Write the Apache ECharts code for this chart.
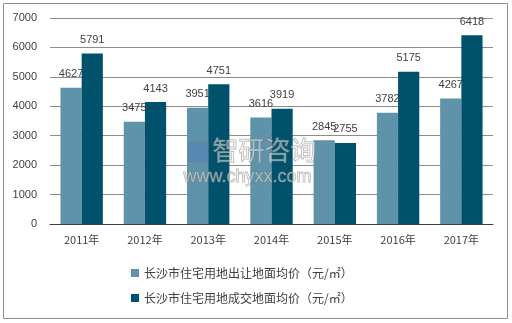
<!DOCTYPE html>
<html><head><meta charset="utf-8">
<script src="https://cdn.jsdelivr.net/npm/echarts@6/dist/echarts.min.js"></script>
<style>html,body{margin:0;padding:0;background:#fff}#c{width:512px;height:323px}</style>
</head><body><div id="c"></div>
<script>
var categories = ['2011年','2012年','2013年','2014年','2015年','2016年','2017年'];
var seriesNames = ['长沙市住宅用地出让地面均价（元/㎡）','长沙市住宅用地成交地面均价（元/㎡）'];
var transferPrice = [4627,3475,3951,3616,2845,3782,4267];
var dealPrice = [5791,4143,4751,3919,2755,5175,6418];
var colors = ['#5E93A9','#00526C'];

var chart = echarts.init(document.getElementById('c'), null, {renderer:'canvas'});
var lbl = {show:true, position:'top', distance:8, color:'#404040', fontSize:11, fontFamily:'Liberation Sans, Arial, sans-serif'};
chart.setOption({
  animation:false,
  backgroundColor:'#fff',
  graphic:[
    {type:'rect', shape:{x:3.5,y:3.5,width:504,height:315}, style:{fill:'none', stroke:'#8c8c8c', lineWidth:1}, z:-1},
    {type:'rect', shape:{x:188,y:142,width:20,height:20}, style:{fill:'rgba(80,130,190,0.55)', stroke:'rgba(120,120,120,0.5)', lineWidth:1}, z:100},
    {type:'text', left:212, top:137, style:{text:'智研咨询', fontSize:26, fontFamily:'Noto Sans CJK SC', fill:'rgba(255,255,255,0.45)', stroke:'rgba(110,110,110,0.55)', lineWidth:1}, z:100},
    {type:'text', left:183, top:168, style:{text:'www.chyxx.com', fontSize:18, fontFamily:'Liberation Sans', fill:'rgba(255,255,255,0.45)', stroke:'rgba(110,110,110,0.55)', lineWidth:1}, z:100}
  ],
  grid:{left:50, right:19, top:18, bottom:99, containLabel:false},
  legend:{
    orient:'vertical', left:126, top:262, itemWidth:8, itemHeight:8, itemGap:13,
    icon:'rect',
    textStyle:{color:'#404040', fontSize:12, fontFamily:'Noto Sans CJK SC'},
    data:seriesNames
  },
  xAxis:{
    type:'category', data:categories,
    axisLine:{lineStyle:{color:'#404040'}},
    axisTick:{show:false},
    axisLabel:{color:'#404040', fontSize:11, margin:10, fontFamily:'Noto Sans CJK SC'}
  },
  yAxis:{
    type:'value', min:0, max:7000, interval:1000,
    axisLine:{show:false}, axisTick:{show:false},
    axisLabel:{color:'#404040', fontSize:11, margin:13, fontFamily:'Liberation Sans, Arial, sans-serif', formatter:function(v){return String(v);}},
    splitLine:{lineStyle:{color:'#8c8c8c'}}
  },
  series:[
    {name:seriesNames[0], type:'bar', data:transferPrice, itemStyle:{color:colors[0]}, barGap:'0%', barCategoryGap:'33%', label:lbl},
    {name:seriesNames[1], type:'bar', data:dealPrice, itemStyle:{color:colors[1]}, barGap:'0%', barCategoryGap:'33%', label:lbl}
  ]
});
</script></body></html>
